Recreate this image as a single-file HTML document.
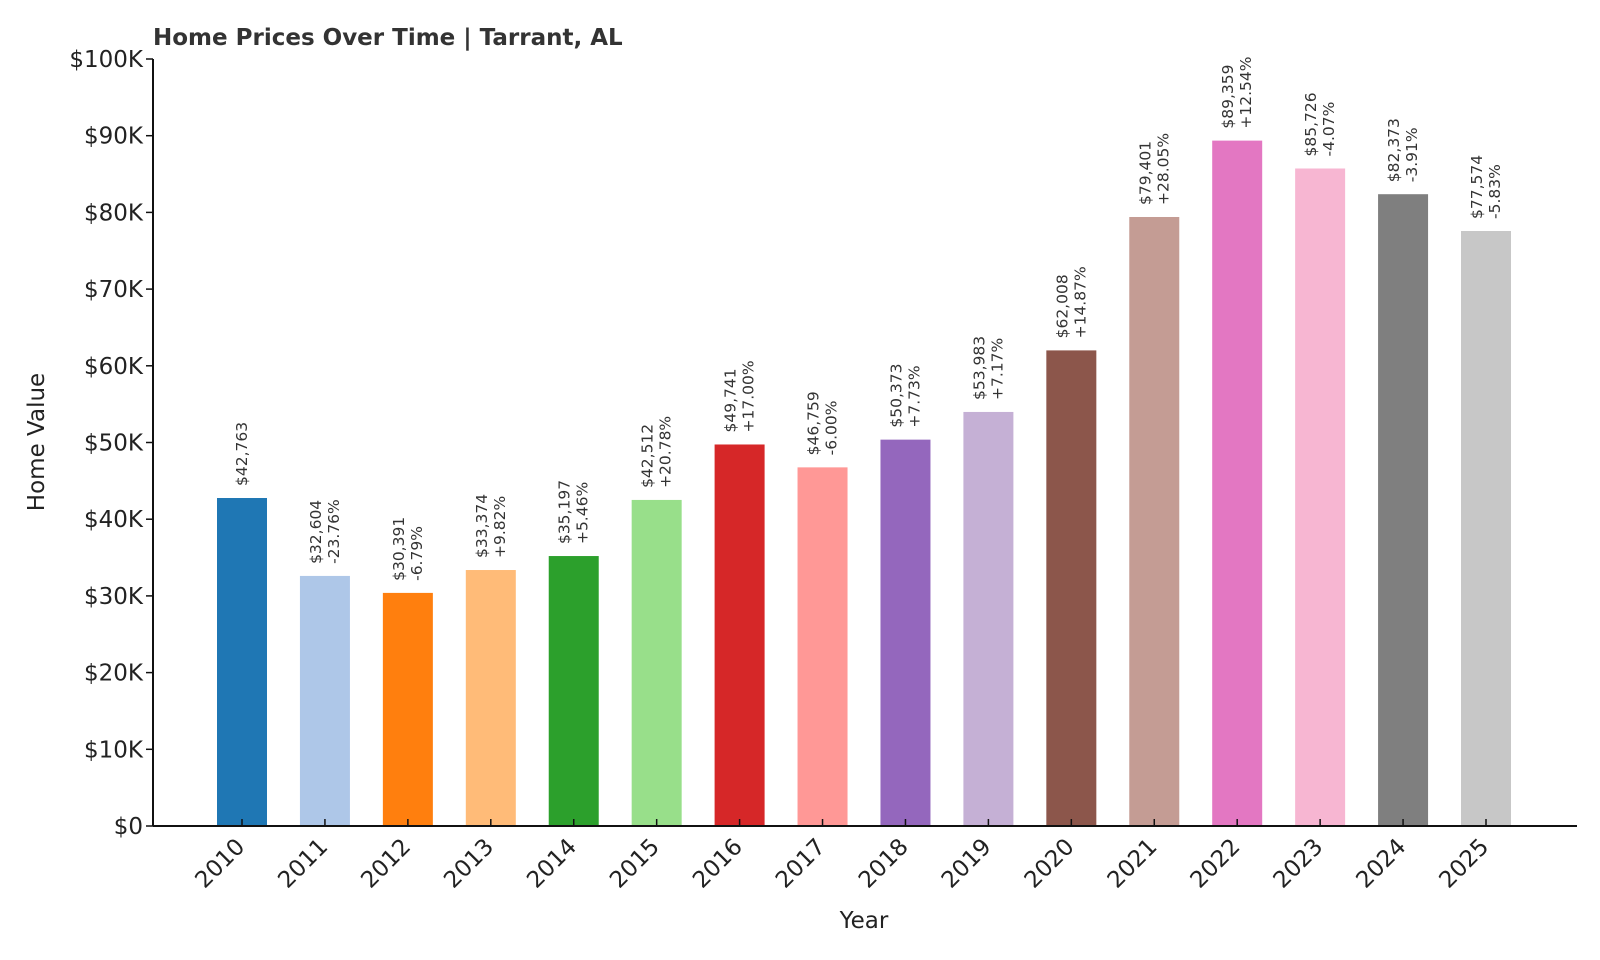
<!DOCTYPE html>
<html><head><meta charset="utf-8"><style>
body{margin:0;background:#fff;}
svg{display:block;font-family:"DejaVu Sans","Liberation Sans",sans-serif;}
</style></head><body>
<svg id="chart" width="1600" height="960">
<text x="153" y="45" font-size="23" font-weight="bold" fill="#333">Home Prices Over Time | Tarrant, AL</text>
<g id="yaxis"></g>
<g id="bars"></g>
<g id="xaxis"></g>
<text x="0" y="0" font-size="23" fill="#222" text-anchor="middle" transform="translate(44,442) rotate(-90)">Home Value</text>
<text x="864" y="928" font-size="23" fill="#222" text-anchor="middle">Year</text>
</svg>
<script>
const years=["2010","2011","2012","2013","2014","2015","2016","2017","2018","2019","2020","2021","2022","2023","2024","2025"];
const values=[42763,32604,30391,33374,35197,42512,49741,46759,50373,53983,62008,79401,89359,85726,82373,77574];
const changes=["","-23.76%","-6.79%","+9.82%","+5.46%","+20.78%","+17.00%","-6.00%","+7.73%","+7.17%","+14.87%","+28.05%","+12.54%","-4.07%","-3.91%","-5.83%"];
const yTicks=[0,10000,20000,30000,40000,50000,60000,70000,80000,90000,100000];
const yTickLabels=["$0","$10K","$20K","$30K","$40K","$50K","$60K","$70K","$80K","$90K","$100K"];
const colors=["#1f77b4","#aec7e8","#ff7f0e","#ffbb78","#2ca02c","#98df8a","#d62728","#ff9896","#9467bd","#c5b0d5","#8c564b","#c49c94","#e377c2","#f7b6d2","#7f7f7f","#c7c7c7"];
const NS="http://www.w3.org/2000/svg";
const L=153,R=1577,Y0=826,Y1=59;
const y=v=>Y0-(v/100000)*(Y0-Y1);
const x0=242,step=(1486-242)/15;
const x=i=>x0+i*step;
function mk(t,a,p){const e=document.createElementNS(NS,t);for(const k in a)e.setAttribute(k,a[k]);p.appendChild(e);return e;}
const ya=document.getElementById('yaxis'),xa=document.getElementById('xaxis'),bg=document.getElementById('bars');
const ax=mk('line',{x1:L,y1:Y1,x2:L,y2:Y0,stroke:'#111','stroke-width':2},ya);


yTicks.forEach((v,i)=>{
 const t=mk('line',{x1:L-7,x2:L,y1:y(v),y2:y(v),stroke:'#111','stroke-width':1.5},ya);
 
 
 const tx=mk('text',{x:L-10,y:y(v)+8,'font-size':23,'text-anchor':'end',fill:'#222'},ya);
 tx.textContent=yTickLabels[i];
 
 
});
years.forEach((yr,i)=>{
 const cx=x(i),v=values[i];
 const b=mk('rect',{x:cx-25,y:y(v),width:50,height:Y0-y(v),fill:colors[i]},bg);
 
 
 const t=mk('line',{x1:cx,x2:cx,y1:Y0,y2:Y0-7,stroke:'#111','stroke-width':1.5},xa);
 
 
 const lx=cx+4,ly=Y0+22;
 const tl=mk('text',{x:0,y:0,'font-size':23,'text-anchor':'end',fill:'#222',transform:`translate(${lx},${ly}) rotate(-45)`},xa);
 tl.textContent=yr;
 
 
 const top=y(v)-12;
 const g=mk('text',{x:0,y:0,'font-size':15.5,fill:'#333',transform:`translate(${cx},${top}) rotate(-90)`},bg);
 
 
 const money='$'+v.toLocaleString('en-US');
 if(changes[i]){
  const s1=mk('tspan',{x:0,dy:-4},g);s1.textContent=money;
  const s2=mk('tspan',{x:0,dy:18},g);s2.textContent=changes[i];
 } else {
  const s1=mk('tspan',{x:0,dy:5},g);s1.textContent=money;
 }
});
const bx=mk('line',{x1:L,y1:Y0,x2:R,y2:Y0,stroke:'#111','stroke-width':2},xa);


</script>
</body></html>
